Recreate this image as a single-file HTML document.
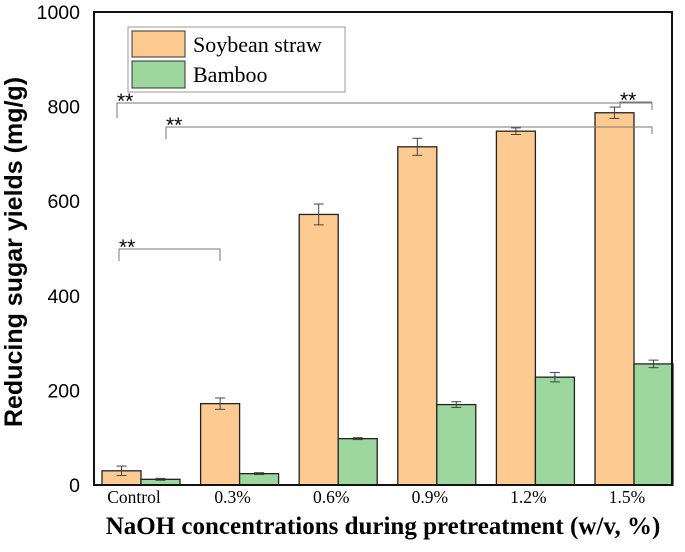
<!DOCTYPE html>
<html><head><meta charset="utf-8"><style>
body{margin:0;background:#fff}
svg{display:block}
</style></head><body>
<svg id="chart" width="685" height="552" xmlns="http://www.w3.org/2000/svg"></svg>
<script>
const categories=["Control","0.3%","0.6%","0.9%","1.2%","1.5%"];
const soyValues=[30,172,572,715,748,787];
const soyErrors=[10,12,22,18,7,12];
const bambooValues=[12,24,98,170,228,256];
const bambooErrors=[2,2,2,6,10,8];
const yTicks=[0,200,400,600,800,1000];
const svg=document.getElementById('chart');
const NS="http://www.w3.org/2000/svg";
const L=94,R=672,T=12,B=485;
function y(v){return B-(v/1000)*(B-T);}
function gx(i){return 141+i*98.6;}
const BW=39;
function mk(tag,attrs,name,text){const e=document.createElementNS(NS,tag);for(const k in attrs)e.setAttribute(k,attrs[k]);


if(text!==undefined)e.textContent=text;svg.appendChild(e);return e;}
function bar(x,v,err,fill,name){
 mk('rect',{x:x,y:y(v),width:BW,height:B-y(v),fill:fill,stroke:'#222','stroke-width':1.3},name);
 const cx=x+BW/2;
 mk('line',{x1:cx,x2:cx,y1:y(v+err),y2:y(v-err),stroke:'#444','stroke-width':1},name+'-error');
 mk('line',{x1:cx-5,x2:cx+5,y1:y(v+err),y2:y(v+err),stroke:'#444','stroke-width':1},name+'-error-cap');
 mk('line',{x1:cx-5,x2:cx+5,y1:y(v-err),y2:y(v-err),stroke:'#444','stroke-width':1},name+'-error-cap');
}
categories.forEach((c,i)=>{
 bar(gx(i)-BW,soyValues[i],soyErrors[i],'#fdcb92','bar-soybean-'+i);
 bar(gx(i),bambooValues[i],bambooErrors[i],'#9dd79d','bar-bamboo-'+i);
 mk('text',{x:gx(i)-7,y:503,'text-anchor':'middle','font-family':'Liberation Serif, serif','font-size':17.5},'x-tick-label',c);
});
mk('rect',{x:L,y:T,width:R-L,height:B-T,fill:'none',stroke:'#111','stroke-width':2},'plot-frame');
yTicks.forEach(t=>{
 mk('text',{x:80,y:y(t)+7,'text-anchor':'end','font-family':'Liberation Sans, sans-serif','font-size':19.5},'y-tick-label',t);
});
function bracket(x1,x2,yy,d1,d2,sx,name){
 mk('path',{d:`M${x1},${yy+d1}V${yy}H${x2}V${yy+d2}`,fill:'none',stroke:'#777','stroke-width':1},name);
 mk('text',{x:sx,y:yy+5,'font-family':'Liberation Sans, sans-serif','font-size':21},name+'-stars','**');
}
bracket(117,652,103,15,7,117,'significance-bracket-control-1.5');
bracket(620,652,102,6,0,620,'significance-bracket-1.2-1.5');
bracket(166,652,127,12,7,166,'significance-bracket-0.3-1.5');
bracket(119,220,249,12,12,119,'significance-bracket-control-0.3');
mk('rect',{x:128,y:27,width:217,height:65,fill:'#fff',stroke:'#999','stroke-width':1},'legend-box');
mk('rect',{x:132,y:31,width:53,height:26,fill:'#fdcb92',stroke:'#333','stroke-width':1},'legend-swatch-soybean');
mk('rect',{x:132,y:61,width:53,height:27,fill:'#9dd79d',stroke:'#333','stroke-width':1},'legend-swatch-bamboo');
mk('text',{x:193,y:52,'font-family':'Liberation Serif, serif','font-size':22},'legend-label-soybean','Soybean straw');
mk('text',{x:193,y:82,'font-family':'Liberation Serif, serif','font-size':22},'legend-label-bamboo','Bamboo');
mk('text',{x:22,y:252,'text-anchor':'middle','font-family':'Liberation Sans, sans-serif','font-size':25,'font-weight':'bold',transform:'rotate(-90 22 252)'},'y-axis-title','Reducing sugar yields (mg/g)');
mk('text',{x:383,y:534,'text-anchor':'middle','font-family':'Liberation Serif, serif','font-size':25,'font-weight':'bold'},'x-axis-title','NaOH concentrations during pretreatment (w/v, %)');
</script>
</body></html>
